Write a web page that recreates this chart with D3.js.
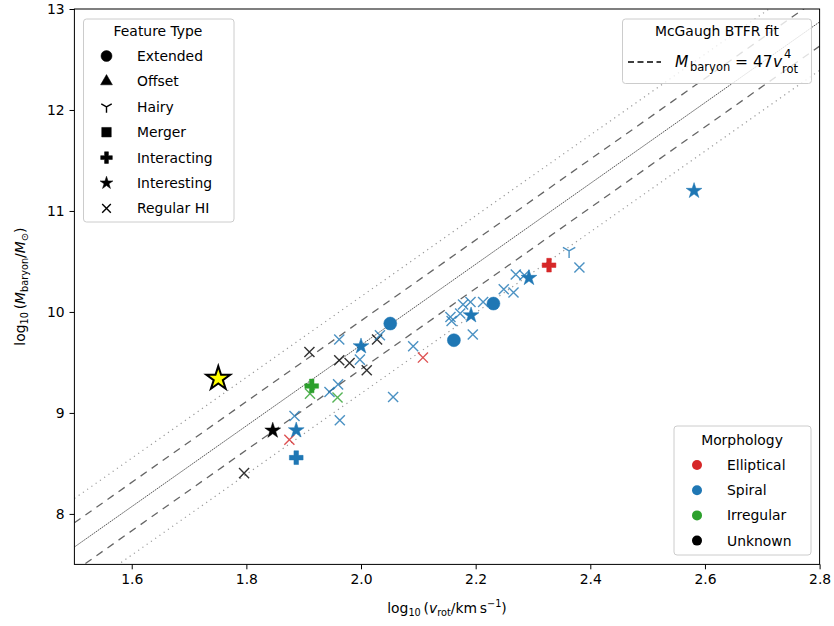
<!DOCTYPE html>
<html><head><meta charset="utf-8">
<script src="https://cdn.jsdelivr.net/npm/d3@7"></script>
<style>body{margin:0;background:#fff;} svg{display:block;font-family:"DejaVu Sans",sans-serif;}</style>
</head><body><svg id="c" width="834" height="626"></svg>
<script>
// ---- data ----
const logV = [1.846,1.887,1.884,1.875,1.887,1.796,1.914,1.911,1.910,1.962,2.000,2.028,2.033,2.051,1.962,1.980,1.998,2.010,2.091,2.108,1.960,1.945,1.959,2.056,1.963,2.162,2.195,2.156,2.158,2.173,2.192,2.178,2.191,2.213,2.231,2.249,2.266,2.270,2.285,2.293,2.328,2.363,2.381,2.581];
const logM = [8.825,8.828,8.969,8.735,8.557,8.404,9.267,9.191,9.604,9.727,9.660,9.727,9.769,9.885,9.521,9.495,9.528,9.422,9.660,9.548,9.283,9.207,9.152,9.158,8.927,9.720,9.776,9.950,9.911,9.984,9.967,10.073,10.099,10.099,10.083,10.225,10.192,10.371,10.364,10.337,10.463,10.605,10.440,11.199];
const feature = ["Interesting","Interesting","Regular HI","Regular HI","Interacting","Regular HI","Interacting","Regular HI","Regular HI","Regular HI","Interesting","Regular HI","Regular HI","Extended","Regular HI","Regular HI","Regular HI","Regular HI","Regular HI","Regular HI","Regular HI","Regular HI","Regular HI","Regular HI","Regular HI","Extended","Regular HI","Regular HI","Regular HI","Regular HI","Interesting","Regular HI","Regular HI","Regular HI","Extended","Regular HI","Regular HI","Regular HI","Regular HI","Interesting","Interacting","Hairy","Regular HI","Interesting"];
const morph = ["Unknown","Spiral","Spiral","Elliptical","Spiral","Unknown","Irregular","Irregular","Unknown","Spiral","Spiral","Unknown","Spiral","Spiral","Unknown","Unknown","Spiral","Unknown","Spiral","Elliptical","Spiral","Spiral","Irregular","Spiral","Spiral","Spiral","Spiral","Spiral","Spiral","Spiral","Spiral","Spiral","Spiral","Spiral","Spiral","Spiral","Spiral","Spiral","Spiral","Spiral","Elliptical","Spiral","Spiral","Spiral"];
const highlightV = [1.751];
const highlightM = [9.340];
const featureTypes = ["Extended","Offset","Hairy","Merger","Interacting","Interesting","Regular HI"];
const morphTypes = ["Elliptical","Spiral","Irregular","Unknown"];
const morphColors = ["#d62728","#1f77b4","#2ca02c","#000000"];
const xTicks = [1.6,1.8,2.0,2.2,2.4,2.6,2.8];
const yTicks = [8,9,10,11,12,13];
const fitNorm = 47, fitSlope = 4;
const fitOffsets = [0.24, 0.48];

// ---- setup ----
const svg = d3.select("#c");
const L=74.4, R=819.6, T=9, B=564.4;
const x = d3.scaleLinear([1.5,2.8],[L,R]);
const y = d3.scaleLinear([7.5,13],[B,T]);
const color = d3.scaleOrdinal(morphTypes, morphColors);
const FS = 13.9;

svg.append("defs").append("clipPath").attr("id","clip")
  .append("rect").attr("x",L).attr("y",T).attr("width",R-L).attr("height",B-T);

// ---- fit lines ----
const lg = svg.append("g").attr("clip-path","url(#clip)");
const a = Math.log10(fitNorm);
const fitLine = off => d3.line().x(d=>x(d)).y(d=>y(a+fitSlope*d+off))([1.5,2.8]);
[[-fitOffsets[1],"#999",1.2,"1.2,4"],[fitOffsets[1],"#999",1.2,"1.2,4"],
 [-fitOffsets[0],"#666",1.3,"7.5,6"],[fitOffsets[0],"#666",1.3,"7.5,6"],
 [0,"#444",0.9,"1.6,0.8"]].forEach(([o,c,w,da])=>{
  lg.append("path").attr("d",fitLine(o)).attr("fill","none").attr("stroke",c)
    .attr("stroke-width",w).attr("stroke-dasharray",da);
});

// ---- markers ----
function markerPath(type, s){
  switch(type){
    case "Extended": return d3.symbol(d3.symbolCircle, Math.PI*(s*0.5)*(s*0.5))();
    case "Offset": return d3.symbol(d3.symbolTriangle, s*s*0.5)();
    case "Merger": return d3.symbol(d3.symbolSquare, s*s*0.75)();
    case "Interacting": return d3.symbol(d3.symbolCross, s*s*0.62)();
    case "Interesting": return d3.symbol(d3.symbolStar, (s*0.52)*(s*0.52)/0.8908)();
    case "Hairy": { const r=s*0.55; return `M0,0L0,${r}M0,0L${-r*0.866},${-r*0.5}M0,0L${r*0.866},${-r*0.5}`; }
    default: { const r=s*0.36; return `M${-r},${-r}L${r},${r}M${-r},${r}L${r},${-r}`; }
  }
}
const stroked = t => t==="Hairy" || t==="Regular HI";
const sizeOf = {Extended:13, Offset:13, Merger:12, Interacting:13, Interesting:16, Hairy:13, "Regular HI":14};

const pts = logV.map((v,i)=>({v, m:logM[i], f:feature[i], c:morph[i]}));
const pg = svg.append("g").attr("clip-path","url(#clip)");
const order = pts.slice().sort((p,q)=> (stroked(q.f)?1:0)-(stroked(p.f)?1:0));
pg.selectAll("path.pt").data(order).join("path").attr("class","pt")
  .attr("transform",d=>`translate(${x(d.v)},${y(d.m)})`)
  .attr("d",d=>markerPath(d.f,sizeOf[d.f]))
  .attr("fill",d=>stroked(d.f)?"none":color(d.c))
  .attr("stroke",d=>color(d.c))
  .attr("stroke-width",d=>stroked(d.f)?1.4:0.5)
  .attr("opacity",d=>stroked(d.f)?0.8:1);

pg.selectAll("path.hl").data(highlightV.map((v,i)=>({v,m:highlightM[i]}))).join("path").attr("class","hl")
  .attr("transform",d=>`translate(${x(d.v)},${y(d.m)})`)
  .attr("d",d3.symbol(d3.symbolStar, 12.5*12.5/0.8908)())
  .attr("fill","#ffff00").attr("stroke","#000").attr("stroke-width",2).attr("stroke-linejoin","miter");

// ---- axes ----
const xa = svg.append("g").attr("transform",`translate(0,${B})`)
  .call(d3.axisBottom(x).tickValues(xTicks).tickFormat(d3.format(".1f")).tickSize(4.9).tickPadding(4.9).tickSizeOuter(0));
const ya = svg.append("g").attr("transform",`translate(${L},0)`)
  .call(d3.axisLeft(y).tickValues(yTicks).tickFormat(d3.format("d")).tickSize(4.9).tickPadding(4.9).tickSizeOuter(0));
[xa,ya].forEach(g=>{
  g.select(".domain").remove();
  g.selectAll("text").attr("font-size",FS).attr("font-family","DejaVu Sans").attr("fill","#000");
  g.selectAll("line").attr("stroke","#000").attr("stroke-width",1);
});
svg.append("rect").attr("x",L).attr("y",T).attr("width",R-L).attr("height",B-T)
  .attr("fill","none").attr("stroke","#000").attr("stroke-width",1);

// axis labels
const xl = svg.append("text").attr("x",(L+R)/2).attr("y",613).attr("text-anchor","middle").attr("font-size",FS);
xl.append("tspan").text("log");
xl.append("tspan").attr("font-size",FS*0.7).attr("dy",3).text("10");
xl.append("tspan").attr("dy",-3).text("\u2009(");
xl.append("tspan").attr("font-style","italic").text("v");
xl.append("tspan").attr("font-size",FS*0.7).attr("dy",3).text("rot");
xl.append("tspan").attr("dy",-3).text("/km\u2009s");
xl.append("tspan").attr("font-size",FS*0.7).attr("dy",-6).text("\u22121");
xl.append("tspan").attr("dy",6).text(")");

const yl = svg.append("text").attr("transform",`translate(25,${(T+B)/2}) rotate(-90)`).attr("text-anchor","middle").attr("font-size",FS);
yl.append("tspan").text("log");
yl.append("tspan").attr("font-size",FS*0.7).attr("dy",3).text("10");
yl.append("tspan").attr("dy",-3).text("\u2009(");
yl.append("tspan").attr("font-style","italic").text("M");
yl.append("tspan").attr("font-size",FS*0.7).attr("dy",3).text("baryon");
yl.append("tspan").attr("dy",-3).text("/");
yl.append("tspan").attr("font-style","italic").text("M");
yl.append("tspan").attr("font-size",FS*0.7).attr("dy",3).text("\u2299");
yl.append("tspan").attr("dy",-3).text(")");

// ---- legends ----
function legendBox(x0,y0,w,h){
  svg.append("rect").attr("x",x0).attr("y",y0).attr("width",w).attr("height",h).attr("rx",3)
    .attr("fill","#fff").attr("fill-opacity",0.8).attr("stroke","#ccc").attr("stroke-width",1);
}
// Feature type legend
legendBox(83.5,19,150.5,203);
svg.append("text").attr("x",158).attr("y",36).attr("text-anchor","middle").attr("font-size",FS).text("Feature Type");
featureTypes.forEach((t,i)=>{
  const yy = 56 + i*25.4;
  svg.append("path").attr("transform",`translate(106.5,${yy})`)
    .attr("d",markerPath(t, t==="Interesting"?13:(t==="Regular HI"?12:11)))
    .attr("fill",stroked(t)?"none":"#000").attr("stroke","#000").attr("stroke-width",stroked(t)?1.4:0.5);
  svg.append("text").attr("x",137).attr("y",yy+5).attr("font-size",FS).text(t);
});
// McGaugh legend
legendBox(622.5,19,189,64.5);
svg.append("text").attr("x",717).attr("y",36).attr("text-anchor","middle").attr("font-size",FS).text("McGaugh BTFR fit");
svg.append("line").attr("x1",628).attr("x2",661).attr("y1",62).attr("y2",62).attr("stroke","#000").attr("stroke-width",1.5).attr("stroke-dasharray","6,3.5");
const MS = 15.5, SS = 11.5;
const mg = svg.append("g").attr("font-size",MS);
mg.append("text").attr("x",675).attr("y",67).attr("font-style","italic").text("M");
mg.append("text").attr("x",690).attr("y",71).attr("font-size",SS).text("baryon");
mg.append("text").attr("x",735).attr("y",67).text("=");
mg.append("text").attr("x",753).attr("y",67).text("47");
mg.append("text").attr("x",773).attr("y",67).attr("font-style","italic").text("v");
mg.append("text").attr("x",784).attr("y",57.5).attr("font-size",SS).text("4");
mg.append("text").attr("x",782).attr("y",72.5).attr("font-size",SS).text("rot");
// Morphology legend
legendBox(674,426,137,129);
svg.append("text").attr("x",742).attr("y",445).attr("text-anchor","middle").attr("font-size",FS).text("Morphology");
morphTypes.forEach((t,i)=>{
  const yy = 465 + i*25.2;
  svg.append("circle").attr("cx",697).attr("cy",yy).attr("r",5).attr("fill",color(t));
  svg.append("text").attr("x",727).attr("y",yy+5).attr("font-size",FS).text(t);
});
</script></body></html>
